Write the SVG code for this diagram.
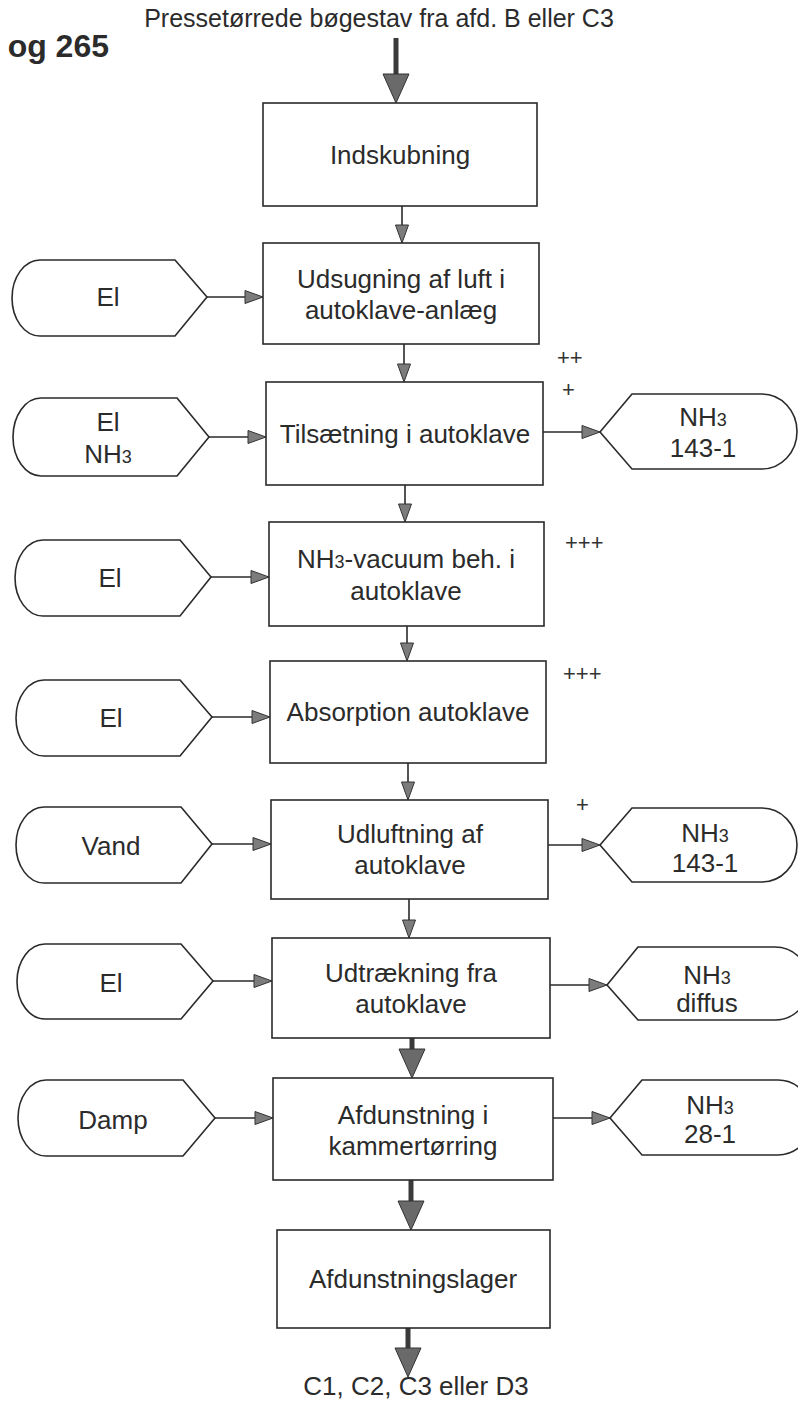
<svg xmlns="http://www.w3.org/2000/svg" width="798" height="1409" viewBox="0 0 798 1409">
  <style>
    .bg { fill: #ffffff; }
    .box { fill: #ffffff; stroke: #2a2a2a; stroke-width: 1.6; }
    .term { fill: #ffffff; stroke: #2a2a2a; stroke-width: 1.6; stroke-linejoin: miter; }
    .t { font-family: "Liberation Sans", Arial, sans-serif; font-size: 26px; fill: #2b2b2b; text-anchor: middle; }
    .title { font-size: 25px; }
    .sub { font-size: 18px; }
    .plus { font-family: "Liberation Sans", Arial, sans-serif; font-size: 22px; fill: #333333; }
    .head { font-family: "Liberation Sans", Arial, sans-serif; font-size: 32px; font-weight: bold; fill: #2b2b2b; text-anchor: end; }
    .thin { stroke: #2a2a2a; stroke-width: 1.6; fill: none; }
    .thick { stroke: #3a3a3a; stroke-width: 5; fill: none; }
  </style>
  <defs>
    <marker id="ah" markerUnits="userSpaceOnUse" markerWidth="20" markerHeight="16" refX="0" refY="8" orient="auto" overflow="visible">
      <path d="M0,1.5 L18,8 L0,14.5 Z" fill="#7c7c7c" stroke="#333333" stroke-width="1"/>
    </marker>
    <marker id="ahBig" markerUnits="userSpaceOnUse" markerWidth="30" markerHeight="28" refX="0" refY="14" orient="auto" overflow="visible">
      <path d="M0,1 L29,14 L0,27 Z" fill="#6a6a6a" stroke="#333333" stroke-width="1"/>
    </marker>
  </defs>

  <rect class="bg" x="0" y="0" width="798" height="1409"/>

  <!-- page heading fragments -->
  <text class="head" x="109" y="57">og 265</text>
  <text class="t title" x="379" y="27" id="source-label">Pressetørrede bøgestav fra afd. B eller C3</text>

  <!-- connectors -->
  <g id="connectors">
    <!-- main flow, top and bottom heavy arrows -->
    <line class="thick" x1="396" y1="38" x2="396" y2="74" marker-end="url(#ahBig)"/>
    <line class="thick" x1="412" y1="1038" x2="412" y2="1049" marker-end="url(#ahBig)"/>
    <line class="thick" x1="411" y1="1180" x2="411" y2="1201" marker-end="url(#ahBig)"/>
    <line class="thick" x1="408" y1="1328" x2="408" y2="1348" marker-end="url(#ahBig)"/>
    <!-- main flow, thin arrows -->
    <line class="thin" x1="402" y1="206" x2="402" y2="225" marker-end="url(#ah)"/>
    <line class="thin" x1="404" y1="344" x2="404" y2="364" marker-end="url(#ah)"/>
    <line class="thin" x1="405" y1="485" x2="405" y2="504" marker-end="url(#ah)"/>
    <line class="thin" x1="407" y1="626" x2="407" y2="643" marker-end="url(#ah)"/>
    <line class="thin" x1="408" y1="763" x2="408" y2="782" marker-end="url(#ah)"/>
    <line class="thin" x1="409" y1="899" x2="409" y2="920" marker-end="url(#ah)"/>
    <!-- inputs -->
    <line class="thin" x1="207" y1="297" x2="245" y2="297" marker-end="url(#ah)"/>
    <line class="thin" x1="209" y1="437" x2="248" y2="437" marker-end="url(#ah)"/>
    <line class="thin" x1="211" y1="577" x2="251" y2="577" marker-end="url(#ah)"/>
    <line class="thin" x1="212" y1="717" x2="252" y2="717" marker-end="url(#ah)"/>
    <line class="thin" x1="212" y1="844" x2="253" y2="844" marker-end="url(#ah)"/>
    <line class="thin" x1="213" y1="981" x2="254" y2="981" marker-end="url(#ah)"/>
    <line class="thin" x1="215" y1="1118" x2="255" y2="1118" marker-end="url(#ah)"/>
    <!-- outputs -->
    <line class="thin" x1="543" y1="432" x2="582" y2="432" marker-end="url(#ah)"/>
    <line class="thin" x1="548" y1="845" x2="582" y2="845" marker-end="url(#ah)"/>
    <line class="thin" x1="550" y1="985" x2="589" y2="985" marker-end="url(#ah)"/>
    <line class="thin" x1="553" y1="1118" x2="592" y2="1118" marker-end="url(#ah)"/>
  </g>

  <!-- process steps -->
  <g id="step-indskubning">
    <rect class="box" x="263" y="103" width="274" height="103"/>
    <text class="t" x="400" y="164">Indskubning</text>
  </g>
  <g id="step-udsugning">
    <rect class="box" x="263" y="243" width="276" height="101"/>
    <text class="t" x="401" y="288">Udsugning af luft i</text>
    <text class="t" x="401" y="319">autoklave-anlæg</text>
  </g>
  <g id="step-tilsaetning">
    <rect class="box" x="266" y="382" width="277" height="103"/>
    <text class="t" x="405" y="443">Tilsætning i autoklave</text>
  </g>
  <g id="step-vacuum">
    <rect class="box" x="269" y="522" width="275" height="104"/>
    <text class="t" x="406" y="568">NH<tspan class="sub">3</tspan>-vacuum beh. i</text>
    <text class="t" x="406" y="600">autoklave</text>
  </g>
  <g id="step-absorption">
    <rect class="box" x="270" y="661" width="276" height="102"/>
    <text class="t" x="408" y="721">Absorption autoklave</text>
  </g>
  <g id="step-udluftning">
    <rect class="box" x="271" y="800" width="277" height="99"/>
    <text class="t" x="410" y="843">Udluftning af</text>
    <text class="t" x="410" y="874">autoklave</text>
  </g>
  <g id="step-udtraekning">
    <rect class="box" x="272" y="938" width="278" height="100"/>
    <text class="t" x="411" y="982">Udtrækning fra</text>
    <text class="t" x="411" y="1013">autoklave</text>
  </g>
  <g id="step-afdunstning">
    <rect class="box" x="273" y="1078" width="280" height="102"/>
    <text class="t" x="413" y="1124">Afdunstning i</text>
    <text class="t" x="413" y="1155">kammertørring</text>
  </g>
  <g id="step-lager">
    <rect class="box" x="277" y="1230" width="273" height="98"/>
    <text class="t" x="413" y="1288">Afdunstningslager</text>
  </g>
  <g id="destination">
    <text class="t" x="416" y="1395">C1, C2, C3 eller D3</text>
  </g>

  <!-- inputs (left terminators) -->
  <g id="in-el-1">
    <path class="term" d="M175,260 L207,297 L175,336 L40,336 A28,38 0 0 1 40,260 Z"/>
    <text class="t" x="108" y="306">El</text>
  </g>
  <g id="in-el-nh3">
    <path class="term" d="M177,398 L209,437 L177,476 L41,476 A28,39 0 0 1 41,398 Z"/>
    <text class="t" x="108" y="431">El</text>
    <text class="t" x="108" y="463">NH<tspan class="sub">3</tspan></text>
  </g>
  <g id="in-el-2">
    <path class="term" d="M180,540 L211,577 L180,616 L43,616 A28,38 0 0 1 43,540 Z"/>
    <text class="t" x="110" y="587">El</text>
  </g>
  <g id="in-el-3">
    <path class="term" d="M180,680 L212,717 L180,756 L44,756 A28,38 0 0 1 44,680 Z"/>
    <text class="t" x="111" y="727">El</text>
  </g>
  <g id="in-vand">
    <path class="term" d="M181,807 L212,844 L181,883 L44,883 A28,38 0 0 1 44,807 Z"/>
    <text class="t" x="111" y="855">Vand</text>
  </g>
  <g id="in-el-4">
    <path class="term" d="M181,944 L213,981 L181,1019 L45,1019 A28,37.5 0 0 1 45,944 Z"/>
    <text class="t" x="111" y="992">El</text>
  </g>
  <g id="in-damp">
    <path class="term" d="M183,1080 L215,1118 L183,1156 L46,1156 A28,38 0 0 1 46,1080 Z"/>
    <text class="t" x="113" y="1129">Damp</text>
  </g>

  <!-- emissions (right terminators) -->
  <g id="out-nh3-1">
    <path class="term" d="M632,394 L600,432 L632,469 L762,469 A35,37.5 0 0 0 762,394 Z"/>
    <text class="t" x="703" y="426">NH<tspan class="sub">3</tspan></text>
    <text class="t" x="703" y="457">143-1</text>
  </g>
  <g id="out-nh3-2">
    <path class="term" d="M632,808 L600,845 L632,882 L762,882 A35,37 0 0 0 762,808 Z"/>
    <text class="t" x="705" y="842">NH<tspan class="sub">3</tspan></text>
    <text class="t" x="705" y="872">143-1</text>
  </g>
  <g id="out-nh3-diffus">
    <path class="term" d="M638,947 L607,985 L638,1020 L775,1020 A35,36.5 0 0 0 775,947 Z"/>
    <text class="t" x="707" y="984">NH<tspan class="sub">3</tspan></text>
    <text class="t" x="707" y="1012">diffus</text>
  </g>
  <g id="out-nh3-3">
    <path class="term" d="M642,1080 L610,1118 L642,1155 L778,1155 A35,37.5 0 0 0 778,1080 Z"/>
    <text class="t" x="710" y="1114">NH<tspan class="sub">3</tspan></text>
    <text class="t" x="710" y="1143">28-1</text>
  </g>

  <!-- intensity marks -->
  <g id="marks">
    <text class="plus" x="557" y="365">++</text>
    <text class="plus" x="562" y="397">+</text>
    <text class="plus" x="565" y="550">+++</text>
    <text class="plus" x="563" y="681">+++</text>
    <text class="plus" x="576" y="812">+</text>
  </g>
</svg>
